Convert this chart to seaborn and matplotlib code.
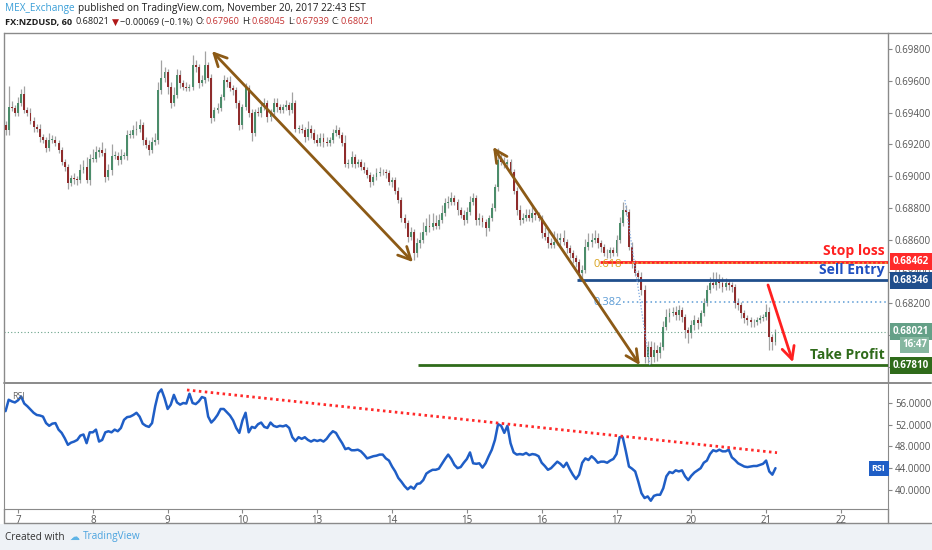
import numpy as np
import pandas as pd
import seaborn as sns
import matplotlib
matplotlib.use('Agg')
import matplotlib.pyplot as plt
import matplotlib.transforms as mtransforms
from matplotlib.lines import Line2D
from matplotlib.patches import Rectangle

# FX:NZDUSD, 60 -- hourly closes, one row per trading day (Nov 6 evening .. Nov 21 2017)
closes = [
    0.6929, 0.69435, 0.6943, 0.6940, 0.6946, 0.6952, 0.69416, 0.6940, 0.6935, 0.6931, 0.6930, 0.69246,
    0.69228, 0.6918, 0.6923, 0.6923, 0.6921, 0.69165, 0.6909, 0.6906, 0.6896, 0.6899, 0.6898, 0.68976,
    0.6904, 0.6906, 0.68976, 0.6911, 0.6911, 0.6915, 0.69165, 0.69146, 0.68995, 0.6904, 0.6913, 0.6913,
    0.6910, 0.6913, 0.6913, 0.6926, 0.6926, 0.6929, 0.6930, 0.6932, 0.69228, 0.69196, 0.69165, 0.69215,
    0.6923, 0.6954, 0.6962, 0.69655, 0.6956, 0.6946, 0.6951, 0.69636, 0.69586, 0.6956, 0.69555, 0.6956,
    0.6970, 0.69687, 0.69586, 0.69605, 0.6970, 0.6962, 0.69366, 0.69416, 0.6943, 0.6950, 0.69605, 0.6959,
    0.69555, 0.6954, 0.6946, 0.6932, 0.69435, 0.69555, 0.6940, 0.6927, 0.69404, 0.6940, 0.69435, 0.6946,
    0.6937, 0.69404, 0.6946, 0.69435, 0.69416, 0.69435, 0.69448, 0.69416, 0.6946, 0.6930, 0.6930, 0.6929,
    0.69246, 0.6930, 0.6927, 0.69228, 0.6921, 0.6924, 0.69215, 0.6921, 0.69228, 0.6927, 0.6929, 0.6926,
    0.6921, 0.6908, 0.6908, 0.6912, 0.6908, 0.6909, 0.6906, 0.6904, 0.69008, 0.68964, 0.68995, 0.6902,
    0.69026, 0.69026, 0.6902, 0.68964, 0.68976, 0.6891, 0.6885, 0.6874, 0.68706, 0.68618, 0.6865, 0.6852,
    0.6858, 0.6860, 0.6865, 0.6869, 0.6868, 0.68706, 0.6869, 0.68725, 0.6877, 0.6883, 0.68838, 0.68863,
    0.68838, 0.68787, 0.68756, 0.68725, 0.68775, 0.68838, 0.68863, 0.68725, 0.68737, 0.6871, 0.68674, 0.68737,
    0.6880, 0.6893, 0.6910, 0.6909, 0.6908, 0.6909, 0.69026, 0.6891, 0.68787, 0.68725, 0.6874, 0.68756,
    0.6874, 0.6877, 0.68756, 0.68737, 0.68643, 0.68618, 0.6858, 0.68567, 0.68586, 0.6860, 0.6861, 0.68586,
    0.6855, 0.68517, 0.68485, 0.6846, 0.6839, 0.6841, 0.68555, 0.68586, 0.6860, 0.6861, 0.6858, 0.68555,
    0.6852, 0.68517, 0.68535, 0.68517, 0.6860, 0.68706, 0.68787, 0.68775, 0.68555, 0.68454, 0.6839, 0.68366,
    0.68284, 0.67863, 0.67926, 0.67863, 0.67907, 0.67888, 0.67926, 0.6805, 0.68114, 0.6814, 0.68146, 0.68127,
    0.68158, 0.68114, 0.68033, 0.68014, 0.68064, 0.68096, 0.68077, 0.6814, 0.68203, 0.68284, 0.68328, 0.68316,
    0.68347, 0.68328, 0.68303, 0.68328, 0.68316, 0.68303, 0.68203, 0.6819, 0.6814, 0.68108, 0.68096, 0.68083,
    0.68083, 0.68096, 0.68108, 0.68114, 0.68146, 0.67989, 0.6796, 0.68021,
]
first_open = 0.6932

# wick length beyond the candle body, in pips
upper_wick = [
    3, 13, 4, 2, 4, 3, 5, 2, 3, 2, 2, 3, 2, 2, 4, 3, 2, 2, 2, 2, 2, 2, 3, 2,
    4, 4, 6, 3, 6, 4, 2, 5, 3, 4, 7, 3, 2, 4, 2, 3, 3, 3, 5, 4, 2, 2, 3, 3,
    4, 5, 11, 3, 2, 3, 5, 4, 3, 2, 3, 2, 6, 3, 2, 3, 9, 2, 2, 2, 3, 2, 3, 2,
    4, 2, 2, 2, 2, 3, 2, 2, 2, 3, 3, 3, 2, 2, 3, 3, 2, 2, 3, 2, 7, 2, 2, 3,
    2, 5, 2, 3, 4, 3, 3, 3, 2, 3, 3, 2, 2, 5, 3, 4, 2, 2, 2, 3, 2, 2, 2, 3,
    3, 2, 2, 2, 2, 2, 2, 2, 2, 2, 3, 2, 3, 5, 6, 5, 7, 6, 5, 4, 5, 3, 4, 4,
    2, 2, 2, 3, 3, 4, 3, 2, 3, 2, 2, 2, 3, 2, 8, 5, 3, 2, 2, 2, 2, 3, 3, 4,
    4, 5, 3, 2, 2, 4, 4, 3, 7, 4, 3, 5, 2, 2, 2, 2, 2, 3, 5, 6, 4, 5, 3, 2,
    2, 2, 2, 2, 3, 4, 5, 3, 2, 3, 2, 2, 3, 3, 4, 4, 5, 3, 3, 4, 5, 3, 3, 4,
    3, 2, 2, 2, 3, 3, 2, 2, 3, 3, 4, 7, 5, 4, 4, 3, 2, 2, 2, 3, 2, 2, 2, 2,
    2, 2, 2, 2, 5, 3, 2, 2,
]
lower_wick = [
    3, 3, 2, 2, 2, 2, 2, 2, 2, 3, 2, 3, 2, 3, 2, 2, 2, 2, 2, 3, 4, 2, 3, 3,
    2, 2, 2, 3, 2, 2, 3, 2, 3, 2, 3, 2, 3, 2, 2, 3, 2, 2, 3, 2, 3, 2, 3, 2,
    2, 3, 2, 3, 4, 3, 2, 2, 3, 2, 2, 2, 2, 3, 3, 2, 2, 2, 3, 2, 2, 2, 2, 3,
    2, 3, 3, 3, 2, 2, 3, 5, 2, 2, 3, 2, 3, 2, 2, 3, 2, 2, 2, 3, 2, 2, 3, 2,
    3, 2, 3, 2, 2, 2, 3, 2, 2, 2, 2, 2, 2, 2, 3, 2, 3, 2, 2, 2, 2, 3, 2, 2,
    2, 2, 3, 2, 3, 2, 2, 3, 3, 3, 2, 5, 3, 3, 2, 2, 3, 2, 2, 2, 2, 2, 3, 2,
    2, 3, 2, 3, 2, 2, 2, 3, 3, 3, 5, 2, 2, 2, 2, 2, 3, 2, 2, 2, 3, 3, 2, 2,
    2, 3, 3, 2, 3, 2, 3, 2, 2, 2, 3, 2, 3, 3, 3, 3, 4, 3, 2, 2, 3, 2, 3, 3,
    2, 3, 3, 2, 2, 2, 2, 2, 2, 3, 2, 3, 3, 4, 4, 5, 3, 5, 3, 2, 2, 3, 2, 3,
    3, 3, 5, 6, 3, 3, 4, 2, 2, 2, 2, 2, 3, 3, 3, 2, 3, 3, 3, 3, 3, 3, 3, 3,
    3, 2, 2, 2, 2, 8, 5, 2,
]

rsi = [
    54.5, 56.6, 56.3, 56.1, 56.5, 57.2, 55.9, 55.4, 54.8, 54.2, 53.8, 53.7, 53.5, 52.3, 51.8, 52.2, 52.3, 51.1, 50.5, 49.5, 48.3, 48.7, 48.9, 49.2,
    50.0, 50.2, 48.6, 50.6, 50.6, 51.1, 48.9, 49.2, 50.6, 50.8, 50.6, 51.1, 50.8, 51.4, 52.9, 53.4, 53.5, 53.8, 54.2, 53.5, 52.2, 51.8, 51.6, 52.3,
    55.4, 57.8, 58.5, 56.9, 54.9, 55.7, 57.5, 56.1, 55.7, 56.0, 55.9, 57.7, 56.0, 55.8, 56.3, 57.1, 56.9, 53.5, 52.4, 53.0, 53.8, 54.9, 54.9, 54.3,
    53.7, 52.8, 51.4, 50.5, 52.8, 54.2, 50.6, 51.6, 51.4, 52.1, 52.4, 51.6, 51.4, 52.4, 51.8, 51.6, 51.8, 51.7, 51.9, 51.4, 49.7, 49.0, 49.7, 49.4,
    49.7, 49.2, 48.9, 49.2, 49.0, 49.2, 48.9, 49.4, 50.2, 50.8, 50.5, 49.5, 48.6, 47.5, 47.7, 47.3, 47.3, 47.4, 47.1, 46.5, 45.8, 46.0, 46.2, 46.3,
    46.5, 46.5, 45.8, 45.4, 44.3, 43.4, 42.2, 41.5, 40.7, 40.1, 40.6, 40.2, 41.1, 41.2, 41.8, 43.0, 43.4, 43.7, 43.7, 43.9, 44.8, 45.7, 46.5, 45.7,
    44.6, 44.0, 44.2, 45.0, 45.7, 46.9, 44.9, 44.8, 44.9, 44.1, 44.9, 46.2, 47.4, 49.2, 52.1, 51.8, 50.5, 51.8, 48.6, 46.9, 46.5, 46.6, 46.5, 46.8,
    46.4, 46.6, 46.5, 46.2, 45.0, 44.4, 43.7, 44.0, 44.6, 45.2, 44.8, 44.2, 45.0, 43.8, 42.8, 42.0, 42.8, 45.0, 45.8, 45.5, 46.2, 45.7, 45.0, 45.2,
    45.2, 45.0, 45.4, 45.7, 46.6, 49.7, 49.7, 47.1, 44.3, 43.9, 43.4, 41.5, 39.4, 38.5, 38.8, 38.0, 38.9, 39.1, 39.1, 40.3, 42.5, 43.3, 43.1, 43.6,
    43.4, 43.6, 42.5, 41.8, 42.6, 43.2, 43.6, 44.0, 45.0, 45.4, 46.6, 47.3, 47.1, 47.4, 47.1, 47.1, 47.4, 46.0, 45.5, 44.9, 44.6, 44.3, 44.2, 44.3,
    44.4, 44.4, 44.6, 44.8, 45.4, 43.4, 42.8, 44.0,
]

day_labels = ['7', '8', '9', '10', '13', '14', '15', '16', '17', '20', '21', '22']
first_day_bar = 4  # bar where the "7" session starts
price_ticks = [0.678, 0.680, 0.682, 0.684, 0.686, 0.688, 0.690, 0.692, 0.694, 0.696, 0.698]
rsi_ticks = [40, 44, 48, 52, 56]

# chart drawings (bar index, price)
trend_arrows = [((66.2, 0.69787), (130.7, 0.68460)),
                ((156.4, 0.69184), (203.5, 0.67812))]
target_arrow = ((244.6, 0.68316), (252.6, 0.67830))
rsi_trend = ([58.2, 247.5], [58.4, 46.85])
fib_high, fib_low = 0.6885, 0.6781
fib_line = ([198.7, 206.7], [fib_high, fib_low])

stop_loss, sell_entry, take_profit = 0.68462, 0.68346, 0.67810
last_price = 0.68021
level_start = {'stop': 190.7, 'sell': 183.3, 'tp': 132.3, 'fib': 198.1}

GREEN, RED, WICK = '#4b8c6a', '#8f2c2c', '#a2a2a2'
BROWN = '#8c5a16'
SL_RED, SELL_BLUE, SELL_TXT, TP_GREEN = '#ff2020', '#1f4e8c', '#2050c0', '#2f6b1a'
RSI_BLUE = '#1f5ec6'
GRID = '#8a8a8a'

W, H = 932, 550
XMAX = 283.1
PX = 6.289e-5  # price per pixel on the main panel

sns.set_style('white')
plt.rcParams['font.family'] = ['Open Sans', 'DejaVu Sans']
plt.rcParams['axes.unicode_minus'] = True

df = pd.DataFrame({'close': closes, 'rsi': rsi})
df['bar'] = np.arange(len(df))
df['open'] = [first_open] + closes[:-1]
body_top = df[['open', 'close']].max(axis=1)
body_bot = df[['open', 'close']].min(axis=1)
df['high'] = body_top + np.array(upper_wick) * 1e-4
df['low'] = body_bot - np.array(lower_wick) * 1e-4
up = df['close'] >= df['open']

fig = plt.figure(figsize=(W / 100, H / 100), dpi=100)
fig.patch.set_facecolor('white')
ax = fig.add_axes([4 / W, 1 - 381 / H, 884 / W, 348 / H])
ax2 = fig.add_axes([4 / W, 1 - 509 / H, 884 / W, 125 / H], sharex=ax)

# candles
ax.vlines(df['bar'], df['low'], df['high'], color=WICK, lw=0.9, zorder=2)
ax.bar(df['bar'], (body_top - body_bot).clip(lower=0.00003), bottom=body_bot, width=0.62,
       color=np.where(up, GREEN, RED), linewidth=0, zorder=3)

# levels
ax.axhline(last_price, color='#6aa38a', lw=0.8, ls=(0, (1, 2)), zorder=1)
ax.hlines(stop_loss, level_start['stop'], XMAX, color=SL_RED, lw=2, zorder=4)
fib618 = fib_low + 0.618 * (fib_high - fib_low)
fib382 = fib_low + 0.382 * (fib_high - fib_low)
ax.hlines(fib618, level_start['fib'], XMAX, color='#e8a33d', lw=1.3, ls=(0, (1, 1.5)), zorder=4)
ax.hlines(fib382, level_start['fib'], XMAX, color='#5b9bd5', lw=1.1, ls=(0, (1, 2)), zorder=4)
ax.hlines(sell_entry, level_start['sell'], XMAX, color=SELL_BLUE, lw=2, zorder=4)
ax.hlines(take_profit, level_start['tp'], XMAX, color=TP_GREEN, lw=2, zorder=4)
ax.plot(*fib_line, color='#7fa9e0', lw=0.9, ls=(0, (1, 1.5)), zorder=4)
ax.text(level_start['fib'] - 0.3, fib618 - 1.5 * PX, '0.618', color='#d9a21b', fontsize=8, ha='right',
        va='center', zorder=5)
ax.text(level_start['fib'] - 0.3, fib382, '0.382', color='#5b9bd5', fontsize=8, ha='right',
        va='center', zorder=5)

for start, end in trend_arrows:
    ax.annotate('', xy=end, xytext=start,
                arrowprops=dict(arrowstyle='<->,head_length=0.9,head_width=0.45', color=BROWN,
                                lw=2, shrinkA=0, shrinkB=0), zorder=6)
ax.annotate('', xy=target_arrow[1], xytext=target_arrow[0],
            arrowprops=dict(arrowstyle='->,head_length=0.9,head_width=0.45', color=SL_RED,
                            lw=2, shrinkA=0, shrinkB=0), zorder=6)

lab_x = 282.0
for val, txt, col in [(stop_loss, 'Stop loss', SL_RED), (sell_entry, 'Sell Entry', SELL_TXT),
                      (take_profit, 'Take Profit', TP_GREEN)]:
    ax.annotate(txt, xy=(lab_x, val), xytext=(0, 2.5), textcoords='offset points', ha='right', va='bottom',
                color=col, fontsize=10, fontweight='bold', zorder=7)

ax.set_xlim(-0.5, XMAX)
ax.set_ylim(0.67712, 0.69901)
ax.set_yticks(price_ticks)
# 0.67800 and 0.68000 sit under the price tags, as on the screenshot
ax.set_yticklabels(['' if v in (0.678, 0.680) else f'{v:.5f}' for v in price_ticks])
ax.yaxis.tick_right()
ax.tick_params(axis='y', right=True, left=False, length=3, width=0.8, color='#888888',
               labelsize=7, labelcolor='#555555', pad=2)
ax.tick_params(axis='x', bottom=False, labelbottom=False)
for s in ['top', 'bottom']:
    ax.spines[s].set_visible(False)
for s in ['left', 'right']:
    ax.spines[s].set_color(GRID)
    ax.spines[s].set_linewidth(1)

# price tags on the right scale
tag = mtransforms.blended_transform_factory(ax.transAxes, ax.transData)
tx = 1 + 4.5 / 884
for val, col in [(stop_loss, '#ff2a2a'), (sell_entry, SELL_BLUE), (last_price, '#64a087'), (take_profit, TP_GREEN)]:
    ax.text(tx, val, f'{val:.5f}', transform=tag, ha='left', va='center', color='white', fontsize=7,
            fontweight='bold', zorder=8, bbox=dict(boxstyle='square,pad=0.3', fc=col, ec='none'))
ax.text(1 + 39 / 884, last_price - 13 * PX, '16:47', transform=tag, ha='right', va='center',
        color='white', fontsize=7, fontweight='bold', zorder=8,
        bbox=dict(boxstyle='square,pad=0.25', fc='#86b7a0', ec='none'))

# RSI panel
sns.lineplot(data=df, x='bar', y='rsi', ax=ax2, color=RSI_BLUE, lw=1.8)
ax2.plot(*rsi_trend, color='#ff2a2a', lw=2, ls=(0, (0.9, 1.25)))
ax2.set_ylim(36.48, 59.5)
ax2.set_yticks(rsi_ticks)
ax2.set_yticklabels([f'{v:.4f}' for v in rsi_ticks])
ax2.yaxis.tick_right()
ax2.tick_params(axis='y', right=True, left=False, length=3, width=0.8, color='#888888',
                labelsize=7, labelcolor='#555555', pad=2)
day_pos = first_day_bar + 24 * np.arange(len(day_labels))
ax2.set_xticks(day_pos)
ax2.set_xticklabels(day_labels)
ax2.tick_params(axis='x', bottom=True, length=3, width=0.8, color='#888888', labelsize=7,
                labelcolor='#555555', pad=1.5)
ax2.set_xlabel('')
ax2.set_ylabel('')
ax2.spines['top'].set_visible(False)
for s in ['left', 'right', 'bottom']:
    ax2.spines[s].set_color(GRID)
ax2.text(0.009, 0.9, 'RSI', transform=ax2.transAxes, fontsize=6.5, color='#666666', va='center')
rsi_tag = mtransforms.blended_transform_factory(ax2.transAxes, ax2.transData)
ax2.text(1 - 2.5 / 884, rsi[-1], 'RSI', transform=rsi_tag, ha='right', va='center', color='white',
         fontsize=6.5, fontweight='bold', bbox=dict(boxstyle='square,pad=0.35', fc=RSI_BLUE, ec='none'))


def fline(x0, y0, x1, y1, lw=1.0):
    fig.add_artist(Line2D([x0 / W, x1 / W], [1 - y0 / H, 1 - y1 / H], color=GRID, lw=lw))


fline(4, 33, 931, 33)
fline(4, 382.5, 931, 382.5, lw=1.4)
fline(4, 523, 931, 523)
fline(4, 509, 4, 523)
fline(888, 509, 888, 523)

# footer
fig.patches.append(Rectangle((0, 0), 1, 26 / H, transform=fig.transFigure, fc='#eef2f6', ec='none', zorder=0))


def text_run(x, y, parts, size):
    renderer = fig.canvas.get_renderer()
    for s, color, weight, gap in parts:
        t = fig.text(x / W, 1 - y / H, s, color=color, fontsize=size, fontweight=weight, ha='left', va='center')
        x = t.get_window_extent(renderer).x1 + gap


DARK, HRED, LBLUE = '#1e1e1e', '#c43232', '#3a9fd8'
text_run(5, 8, [('MEX_Exchange', LBLUE, 'normal', 3),
                ('published on TradingView.com, November 20, 2017 22:43 EST', DARK, 'normal', 0)], 7.2)
text_run(5, 22, [('FX:NZDUSD, 60', DARK, 'bold', 3), ('0.68021', DARK, 'normal', 2.5), ('▼', '#b01818', 'normal', 2),
                 ('−0.00069 (−0.1%)', DARK, 'normal', 2.5), ('O:', DARK, 'normal', 0.5), ('0.67960', HRED, 'normal', 2.5),
                 ('H:', DARK, 'normal', 0.5), ('0.68045', HRED, 'normal', 2.5), ('L:', DARK, 'normal', 0.5),
                 ('0.67939', HRED, 'normal', 2.5), ('C:', DARK, 'normal', 0.5), ('0.68021', HRED, 'normal', 0)], 6.6)
text_run(5, 537, [('Created with', '#333333', 'normal', 5), ('☁', '#5fb4e6', 'normal', 3),
                  ('TradingView', '#4aa3df', 'normal', 0)], 7.2)

fig.savefig('out.png', dpi=100)
